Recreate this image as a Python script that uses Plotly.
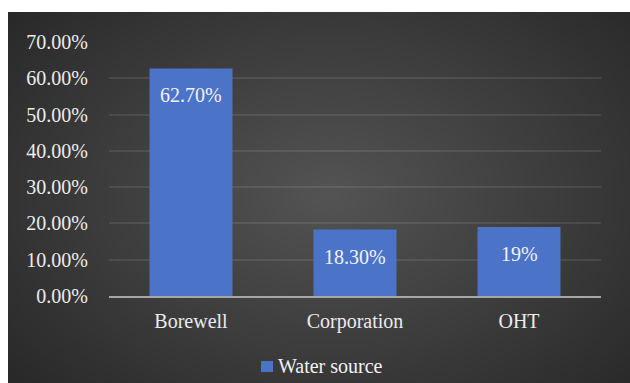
import plotly.graph_objects as go

categories = ["Borewell", "Corporation", "OHT"]
values = [0.627, 0.183, 0.19]
bar_labels = ["62.70%", "18.30%", "19%"]
series_name = "Water source"

W, H = 630, 383
L, R, T, B = 109, 29, 42, 87
pw, ph = W - L - R, H - T - B

def px_x(px):
    return (px - L) / pw

def px_y(py):
    return (H - B - py) / ph

fig = go.Figure()
fig.add_trace(go.Bar(
    x=categories, y=values, name=series_name,
    width=0.506,
    marker=dict(color="#4b73c8", line=dict(width=0)),
    showlegend=False,
))

shapes = []
# dark chart area
shapes.append(dict(type="rect", xref="paper", yref="paper", layer="below",
                   x0=px_x(0), x1=px_x(640), y0=px_y(390), y1=px_y(0),
                   fillcolor="#262626", line=dict(width=0)))
# radial glow
N = 45
cx, cy = 330, 195
for k in range(N, 0, -1):
    rx = 440 * k / N
    ry = 300 * k / N
    shapes.append(dict(type="circle", xref="paper", yref="paper", layer="below",
                       x0=px_x(cx - rx), x1=px_x(cx + rx),
                       y0=px_y(cy + ry), y1=px_y(cy - ry),
                       fillcolor="rgba(255,255,255,0.0068)", line=dict(width=0)))
# white page margins
shapes.append(dict(type="rect", xref="paper", yref="paper", layer="above",
                   x0=px_x(-10), x1=px_x(8), y0=px_y(400), y1=px_y(-10),
                   fillcolor="white", line=dict(width=0)))
shapes.append(dict(type="rect", xref="paper", yref="paper", layer="above",
                   x0=px_x(-10), x1=px_x(650), y0=px_y(12), y1=px_y(-10),
                   fillcolor="white", line=dict(width=0)))
# legend marker
shapes.append(dict(type="rect", xref="paper", yref="paper",
                   x0=px_x(261), x1=px_x(273), y0=px_y(372), y1=px_y(361),
                   fillcolor="#4b73c8", line=dict(width=0)))

annotations = []
for c, v, t in zip(categories, values, bar_labels):
    annotations.append(dict(x=c, y=v, xref="x", yref="y", text=t, showarrow=False,
                            yshift=-27, font=dict(family="Liberation Serif", size=20, color="#f2f2f2")))
annotations.append(dict(x=px_x(276), y=px_y(366), xref="paper", yref="paper",
                        xanchor="left", yanchor="middle", text=series_name, showarrow=False,
                        font=dict(family="Liberation Serif", size=20, color="#f2f2f2")))

fig.update_layout(
    width=W, height=H,
    margin=dict(l=L, r=R, t=T, b=B, pad=0),
    paper_bgcolor="white",
    plot_bgcolor="rgba(0,0,0,0)",
    font=dict(family="Liberation Serif", size=20, color="#ececec"),
    shapes=shapes,
    annotations=annotations,
    bargap=0.494,
    showlegend=False,
)
fig.update_yaxes(range=[0, 0.70], dtick=0.1, tickformat=".2%",
                 showgrid=True, gridcolor="rgba(255,255,255,0.09)", gridwidth=2,
                 zeroline=False, showline=False, ticks="", ticklabelstandoff=20,
                 fixedrange=True)
fig.update_xaxes(showline=True, linecolor="#a6a6a6", linewidth=2, ticks="",
                 showgrid=False, ticklabelstandoff=6, fixedrange=True)

fig.write_html("out.html")
